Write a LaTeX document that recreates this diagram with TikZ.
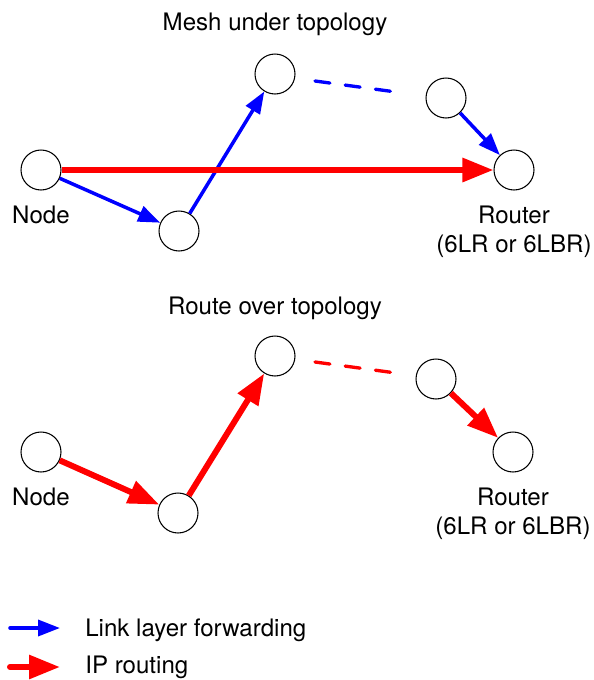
\documentclass[tikz,border=0pt]{standalone}
\usepackage{fontspec}
\setmainfont{TeX Gyre Heros}
\usepackage{tikz}
\usetikzlibrary{calc,positioning,arrows.meta}

\begin{document}
\begin{tikzpicture}[x=0.02cm,y=-0.02cm]

\tikzset{hopnode/.style={circle,draw,line width=0.6pt,minimum size=0.8cm,inner sep=0},
textlabel/.style={font=\fontsize{13.7}{16}\selectfont,inner sep=0},
linkfwd/.style={draw=blue,line width=2pt,-{Triangle[length=0.44cm,width=0.32cm]}},
iproute/.style={draw=red,line width=3.4pt,-{Triangle[length=0.62cm,width=0.46cm]}},
missinghop/.style={line width=1.9pt,line cap=round,dash pattern=on 0.3cm off 0.31cm}}

\useasboundingbox (0,0) rectangle (593,680);

% Mesh under nodes
\node (m0) [hopnode] at (41,170) {};
\node (m1) [hopnode] at (179,231) {};
\node (m2) [hopnode] at (275,74) {};
\node (m3) [hopnode] at (446,98) {};
\node (m4) [hopnode] at (514,170) {};
\coordinate (m2d) at (315,81);
\coordinate (m3d) at (396,92);

% Route over nodes
\node (r0) [hopnode] at (41,452) {};
\node (r1) [hopnode] at (178,513) {};
\node (r2) [hopnode] at (275,356) {};
\node (r3) [hopnode] at (436,379) {};
\node (r4) [hopnode] at (513,452) {};
\coordinate (r2d) at (315,362);
\coordinate (r3d) at (396,373);

% Titles and labels
\node (meshTitle) [textlabel] at (275,24) {Mesh under topology};
\node (routeTitle) [textlabel] at (275,308) {Route over topology};
\foreach \u/\y in {m0/215, r0/497} \node[textlabel] (\u lab) at ($(\u |- 0,\y)$) {Node};
\foreach \u/\y in {m4/215, r4/497} \node[textlabel,anchor=north,align=center] (\u lab) at ($(\u |- 0,\y) + (0,-9)$) {Router\\(6LR or 6LBR)};

%% Edges
\foreach \a/\b in {m0/m1, m1/m2, m3/m4}
	\draw[linkfwd] (\a) -- (\b);
\draw[iproute] (m0) -- (m4);
\draw[missinghop,blue] (m2d) -- (m3d);

\foreach \a/\b in {r0/r1, r1/r2, r3/r4}
	\draw[iproute] (\a) -- (\b);
\draw[missinghop,red] (r2d) -- (r3d);

% Legend
\coordinate (lgA) at (10,628);
\coordinate (lgB) at (60,628);
\coordinate (lgC) at (10,667);
\coordinate (lgD) at (60,667);
\draw[linkfwd,line cap=round] (lgA) -- (lgB);
\draw[iproute,line cap=round] (lgC) -- (lgD);
\node (lgLink) [textlabel,anchor=west] at (85,630) {Link layer forwarding};
\node (lgIP) [textlabel,anchor=west] at (85,667) {IP routing};
\end{tikzpicture}
\end{document}
